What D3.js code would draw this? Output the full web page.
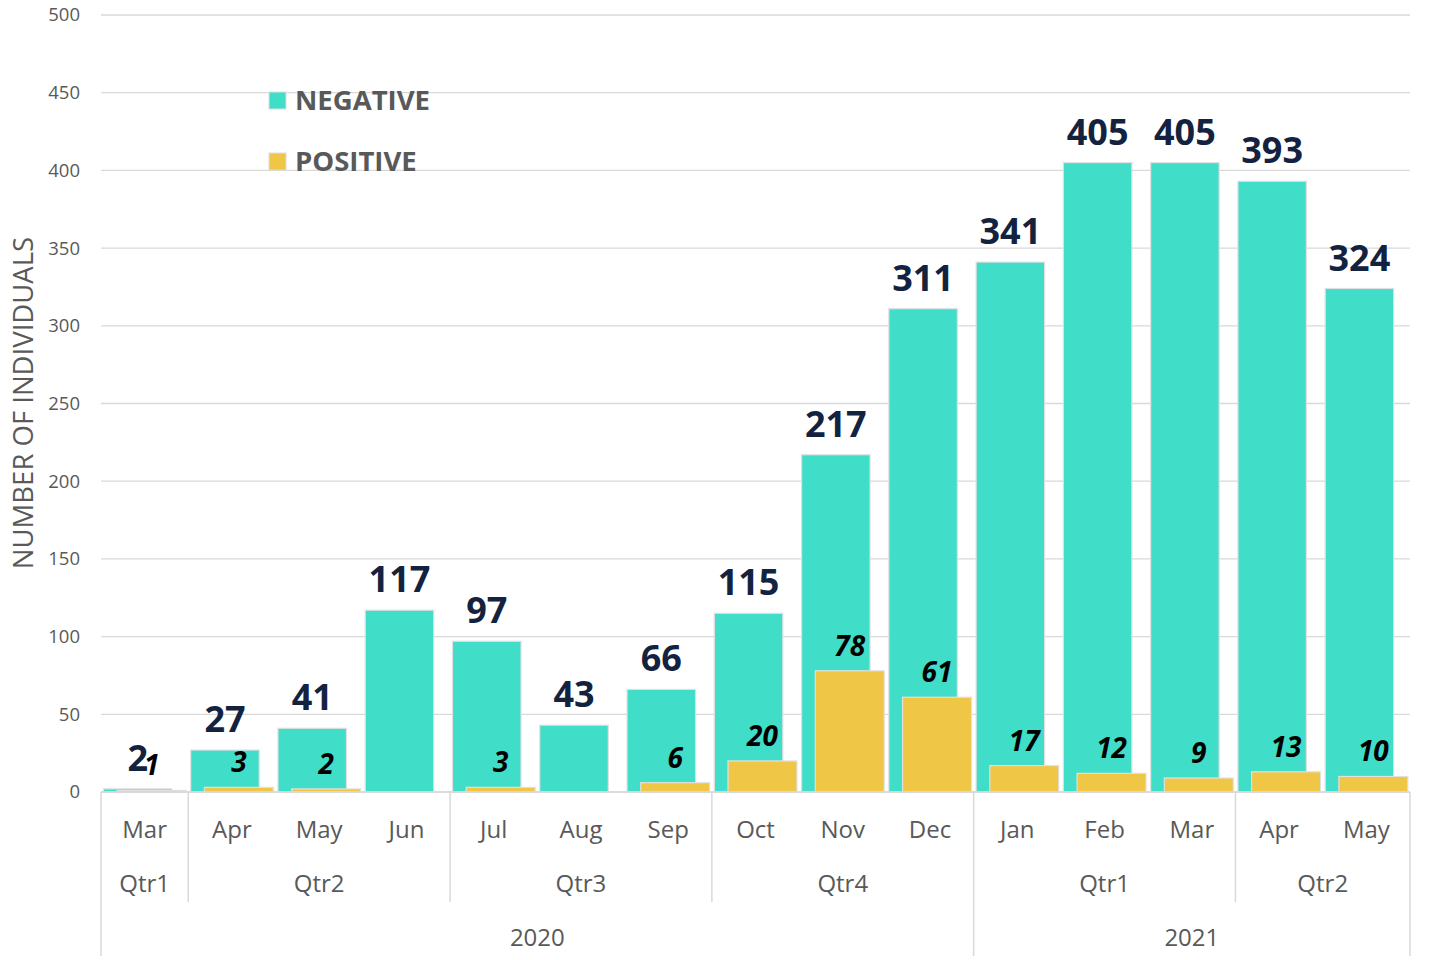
<!DOCTYPE html>
<html><head><meta charset="utf-8">
<script src="https://cdn.jsdelivr.net/npm/d3@7"></script>
<style>body{margin:0;background:#fff}svg{display:block}</style>
</head><body>
<svg id="c" width="1434" height="960"></svg>
<script>
const months = ["Mar","Apr","May","Jun","Jul","Aug","Sep","Oct","Nov","Dec","Jan","Feb","Mar","Apr","May"];
const quarters = ["Qtr1","Qtr2","Qtr2","Qtr2","Qtr3","Qtr3","Qtr3","Qtr4","Qtr4","Qtr4","Qtr1","Qtr1","Qtr1","Qtr2","Qtr2"];
const years = ["2020","2020","2020","2020","2020","2020","2020","2020","2020","2020","2021","2021","2021","2021","2021"];
const negative = [2,27,41,117,97,43,66,115,217,311,341,405,405,393,324];
const positive = [1,3,2,0,3,0,6,20,78,61,17,12,9,13,10];
const yTicks = [0,50,100,150,200,250,300,350,400,450,500];

const svg = d3.select("#c");
const L = 101, R = 1410, T = 15, B = 792;
const idx = d3.range(months.length);
const x = d3.scaleBand().domain(idx).range([L, R]).padding(0);
const y = d3.scaleLinear().domain([0, 500]).range([B, T]);
const bw = x.bandwidth();
const gray = "#595959", grid = "#d9d9d9";
const font = "'Open Sans', sans-serif";

// gridlines
svg.append("g").selectAll("line").data(yTicks).join("line")
  .attr("x1", L).attr("x2", R).attr("y1", d => y(d)).attr("y2", d => y(d))
  .attr("stroke", grid).attr("stroke-width", 1.3);

// y axis labels
const yAxis = d3.axisLeft(y).tickValues(yTicks).tickSize(0).tickPadding(21);
const ya = svg.append("g").attr("transform", `translate(${L},0)`).call(yAxis);
ya.select(".domain").remove();
ya.selectAll("text").attr("font-family", font).attr("font-size", 18.5).attr("fill", gray);

// y title
svg.append("text").attr("transform", `translate(33,403) rotate(-90)`)
  .attr("text-anchor", "middle").attr("font-family", font).attr("font-size", 27.5)
  .attr("fill", gray).text("NUMBER OF INDIVIDUALS");

const negC = "#40ddc8", posC = "#f0c646";
// negative bars
svg.append("g").selectAll("rect").data(idx).join("rect")
  .attr("x", i => x(i) + bw * 0.028).attr("width", bw * 0.785)
  .attr("y", i => y(negative[i])).attr("height", i => B - y(negative[i]))
  .attr("fill", negC).attr("stroke", "#e0e0e0").attr("stroke-width", 1.2);
// positive bars
svg.append("g").selectAll("rect").data(idx.filter(i => positive[i] > 0)).join("rect")
  .attr("x", i => x(i) + bw * 0.185).attr("width", bw * 0.79)
  .attr("y", i => y(positive[i])).attr("height", i => B - y(positive[i]))
  .attr("fill", posC).attr("stroke", "#e0e0e0").attr("stroke-width", 1.2);

// negative labels
svg.append("g").selectAll("text").data(idx).join("text")
  .attr("x", i => x(i) + bw * (0.028 + 0.785 / 2)).attr("y", i => y(negative[i]) - 18)
  .attr("text-anchor", "middle").attr("font-family", font).attr("font-weight", 700)
  .attr("font-size", 36).attr("fill", "#13233f").text(i => negative[i]);
// positive labels
svg.append("g").selectAll("text").data(idx.filter(i => positive[i] > 0)).join("text")
  .attr("x", i => x(i) + bw * (0.185 + 0.79 / 2)).attr("y", i => y(positive[i]) - 15)
  .attr("text-anchor", "middle").attr("font-family", font).attr("font-weight", 700)
  .attr("font-style", "italic").attr("font-size", 28).attr("fill", "#000").text(i => positive[i]);

// x axis baseline
svg.append("line").attr("x1", L).attr("x2", R).attr("y1", B).attr("y2", B)
  .attr("stroke", grid).attr("stroke-width", 1.5);

// month labels
svg.append("g").selectAll("text").data(idx).join("text")
  .attr("x", i => x(i) + bw / 2).attr("y", 838).attr("text-anchor", "middle")
  .attr("font-family", font).attr("font-size", 24).attr("fill", gray).text(i => months[i]);

// group helpers
function groups(arr) {
  const g = [];
  arr.forEach((v, i) => {
    const key = years[i] + "|" + v;
    if (g.length && g[g.length - 1].key === key) g[g.length - 1].end = i;
    else g.push({key, label: v, start: i, end: i});
  });
  return g;
}
const qg = groups(quarters);
const yg = [];
years.forEach((v, i) => {
  if (yg.length && yg[yg.length - 1].label === v) yg[yg.length - 1].end = i;
  else yg.push({label: v, start: i, end: i});
});

svg.append("g").selectAll("text").data(qg).join("text")
  .attr("x", d => (x(d.start) + x(d.end) + bw) / 2).attr("y", 892).attr("text-anchor", "middle")
  .attr("font-family", font).attr("font-size", 24).attr("fill", gray).text(d => d.label);
svg.append("g").selectAll("text").data(yg).join("text")
  .attr("x", d => (x(d.start) + x(d.end) + bw) / 2).attr("y", 946).attr("text-anchor", "middle")
  .attr("font-family", font).attr("font-size", 24).attr("fill", gray).text(d => d.label);

// separators
const yearBounds = new Set(yg.map(d => d.start));
svg.append("g").selectAll("line").data(qg.map(d => d.start).filter(s => !yearBounds.has(s))).join("line")
  .attr("x1", s => x(s)).attr("x2", s => x(s)).attr("y1", B).attr("y2", 902)
  .attr("stroke", grid).attr("stroke-width", 1.5);
svg.append("g").selectAll("line").data([...yg.map(d => x(d.start)), R]).join("line")
  .attr("x1", d => d).attr("x2", d => d).attr("y1", B).attr("y2", 956)
  .attr("stroke", grid).attr("stroke-width", 1.5);

// legend
const leg = [{label: "NEGATIVE", c: negC, y: 92}, {label: "POSITIVE", c: posC, y: 153}];
const lg = svg.append("g");
lg.selectAll("rect").data(leg).join("rect")
  .attr("x", 269).attr("y", d => d.y).attr("width", 17).attr("height", 17)
  .attr("fill", d => d.c).attr("stroke", "#ddd");
lg.selectAll("text").data(leg).join("text")
  .attr("x", 295).attr("y", d => d.y + 18).attr("font-family", font).attr("font-weight", 700)
  .attr("font-size", 27.5).attr("fill", gray).text(d => d.label);
</script>
</body></html>
